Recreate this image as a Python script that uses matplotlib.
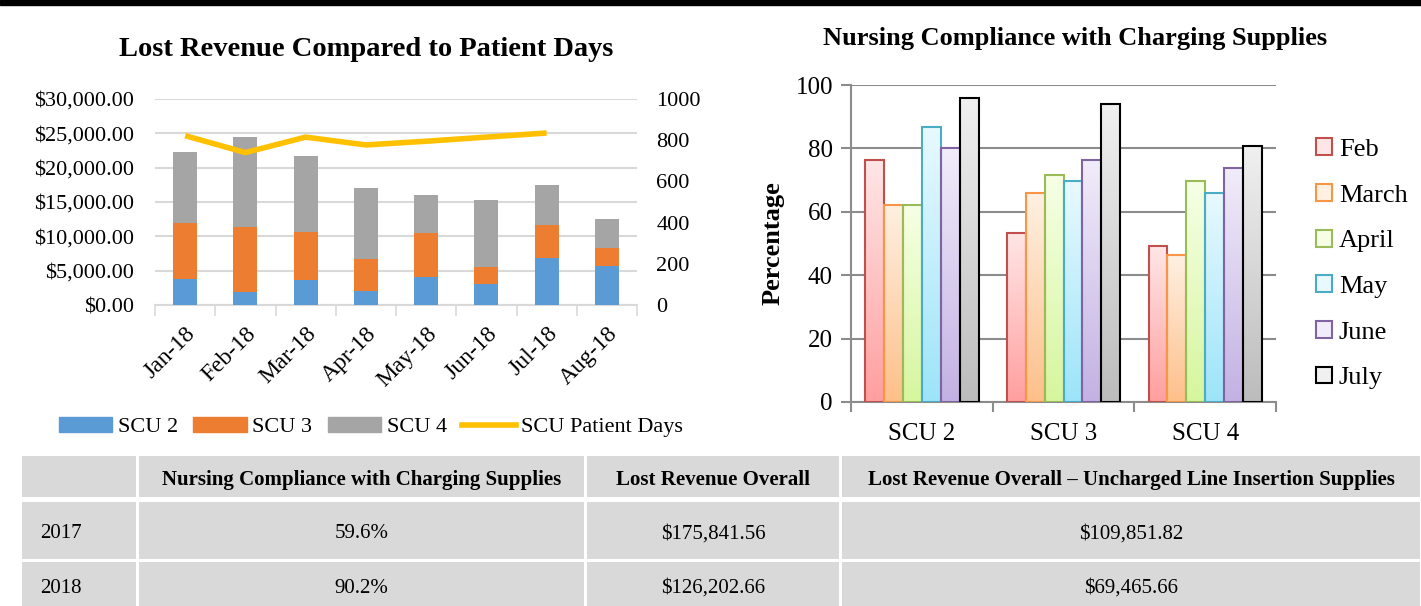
import matplotlib.pyplot as plt
import numpy as np
from matplotlib.colors import LinearSegmentedColormap
from matplotlib.patches import Rectangle, Patch
from matplotlib.lines import Line2D

plt.rcParams['font.family'] = ['Liberation Serif', 'DejaVu Serif']

# ---- left chart data ----
months = ['Jan-18', 'Feb-18', 'Mar-18', 'Apr-18', 'May-18', 'Jun-18', 'Jul-18', 'Aug-18']
scu2 = [3850, 1950, 3700, 2100, 4100, 3100, 6820, 5610]
scu3 = [8150, 9470, 6950, 4630, 6400, 2470, 4790, 2710]
scu4 = [10260, 13020, 11030, 10250, 5570, 9680, 5900, 4210]
patient_days = [822, 740, 815, 777, 795, 815, 835, np.nan]

# ---- right chart data ----
units = ['SCU 2', 'SCU 3', 'SCU 4']
comp_months = ['Feb', 'March', 'April', 'May', 'June', 'July']
compliance = {
    'Feb':   [76.2, 53.4, 49.1],
    'March': [62.3, 65.9, 46.3],
    'April': [62.3, 71.7, 69.7],
    'May':   [86.8, 69.6, 65.8],
    'June':  [80.0, 76.3, 73.8],
    'July':  [95.8, 94.0, 80.7],
}

# ---- table data ----
table_header = ['', 'Nursing Compliance with Charging Supplies', 'Lost Revenue Overall',
                'Lost Revenue Overall \u2013 Uncharged Line Insertion Supplies']
table_rows = [['2017', '59.6%', '$175,841.56', '$109,851.82'],
              ['2018', '90.2%', '$126,202.66', '$69,465.66']]

W, H = 1421, 606
fig = plt.figure(figsize=(W / 100, H / 100), dpi=100)

# background overlay (black bar + table) in pixel coords
bg = fig.add_axes([0, 0, 1, 1])
bg.set_xlim(0, W)
bg.set_ylim(H, 0)
bg.axis('off')
bg.add_patch(Rectangle((0, 0), W, 5, color='black'))

col_x = [22, 139, 587, 842, W + 2]
row_y = [456, 497, 502, 559, 562, H + 2]
cell_rows = [(row_y[0], row_y[1]), (row_y[2], row_y[3]), (row_y[4], row_y[5])]
for r, (y0, y1) in enumerate(cell_rows):
    texts = table_header if r == 0 else table_rows[r - 1]
    for c in range(4):
        x0, x1 = col_x[c], col_x[c + 1] - 3
        bg.add_patch(Rectangle((x0, y0), x1 - x0, y1 - y0, color='#d9d9d9', lw=0))
        yc = (y0 + y1) / 2 + 1 if r < 2 else (y0 + H) / 2 + 2
        if r == 0:
            bg.text((x0 + x1) / 2, yc, texts[c], ha='center', va='center_baseline',
                    fontsize=15, fontweight='bold')
        elif c == 0:
            bg.text(x0 + 18, yc, texts[c], ha='left', va='center_baseline', fontsize=15)
        else:
            bg.text((x0 + x1) / 2, yc, texts[c], ha='center', va='center_baseline',
                    fontsize=15)

# ---- left chart ----
ax = fig.add_axes([155 / W, 1 - 305 / H, (637 - 155) / W, (305 - 99) / H])
x = np.arange(len(months))
bw = 0.4
b2 = np.array(scu2)
b3 = np.array(scu3)
b4 = np.array(scu4)
ax.bar(x, b2, bw, color='#5b9bd5', label='SCU 2', zorder=3)
ax.bar(x, b3, bw, bottom=b2, color='#ed7d31', label='SCU 3', zorder=3)
ax.bar(x, b4, bw, bottom=b2 + b3, color='#a5a5a5', label='SCU 4', zorder=3)
ax.set_xlim(-0.5, len(months) - 0.5)
ax.set_ylim(0, 30000)
ax.set_yticks(np.arange(0, 30001, 5000))
ax.set_yticklabels(['${:,.2f}'.format(v) for v in np.arange(0, 30001, 5000)], fontsize=16)
ax.yaxis.grid(True, color='#d9d9d9', lw=1.5)
ax.tick_params(axis='y', length=0, pad=15)
ax.set_xticks(x)
ax.set_xticklabels(months, rotation=45, ha='right', rotation_mode='anchor', fontsize=17)
ax.tick_params(axis='x', length=0, pad=13)
ax.set_xticks(np.arange(-0.5, len(months)), minor=True)
ax.tick_params(axis='x', which='minor', length=8, color='#d9d9d9', width=1.2)
for s in ['top', 'right', 'left']:
    ax.spines[s].set_visible(False)
ax.spines['bottom'].set_color('#d9d9d9')
ax.spines['bottom'].set_linewidth(1.5)

ax2 = ax.twinx()
ax2.plot(x, patient_days, color='#ffc000', lw=4, label='SCU Patient Days', zorder=4,
         solid_capstyle='butt')
ax2.set_ylim(0, 1000)
ax2.set_yticks(np.arange(0, 1001, 200))
ax2.tick_params(axis='y', length=0, pad=14, labelsize=16)
for s in ax2.spines.values():
    s.set_visible(False)

fig.text(366 / W, 1 - 50 / H, 'Lost Revenue Compared to Patient Days', fontsize=20.5,
         fontweight='bold', ha='center', va='center')

handles = [Patch(color='#5b9bd5'), Patch(color='#ed7d31'), Patch(color='#a5a5a5'),
           Line2D([], [], color='#ffc000', lw=4)]
fig.legend(handles, ['SCU 2', 'SCU 3', 'SCU 4', 'SCU Patient Days'], loc='center',
           bbox_to_anchor=(371 / W, 1 - 427 / H), ncol=4, frameon=False, fontsize=16,
           handlelength=2.4, handleheight=0.7, handletextpad=0.25, columnspacing=0.7)

# ---- right chart ----
rx = fig.add_axes([851 / W, 1 - 402 / H, (1276 - 851) / W, (402 - 85) / H])
edges = ['#c0504d', '#f79646', '#9bbb59', '#4bacc6', '#8064a2', '#000000']
tops = ['#ffe6e6', '#fff0e2', '#f6ffe6', '#e8f9ff', '#f1ecfa', '#f0f0f0']
bottoms = ['#ff9f9f', '#fdc08a', '#d6f69e', '#9de4f9', '#c3b1e3', '#bcbcbc']
ux = np.arange(len(units))
n = len(comp_months)
w = 0.8 / n
grad = np.linspace(0, 1, 128).reshape(-1, 1)
for i, m in enumerate(comp_months):
    pos = ux - 0.4 + w * (i + 0.5)
    bars = rx.bar(pos, compliance[m], w, facecolor='none', edgecolor=edges[i],
                  lw=1.5, zorder=4, label=m)
    cmap = LinearSegmentedColormap.from_list('g%d' % i, [bottoms[i], tops[i]])
    for b in bars:
        rx.imshow(grad, extent=[b.get_x(), b.get_x() + b.get_width(), 0, b.get_height()],
                  origin='lower', cmap=cmap, aspect='auto', zorder=3)
rx.set_xlim(-0.5, len(units) - 0.5)
rx.set_ylim(0, 100)
rx.set_yticks(np.arange(0, 101, 20))
rx.yaxis.grid(True, color='#8c8c8c', lw=1.5)
rx.set_axisbelow(True)
rx.tick_params(axis='y', length=7, color='#8c8c8c', width=1.5, labelsize=18, pad=6)
rx.set_xticks(ux)
rx.set_xticklabels(units, fontsize=18)
rx.tick_params(axis='x', length=0, pad=15)
rx.set_xticks(np.arange(-0.5, len(units)), minor=True)
rx.tick_params(axis='x', which='minor', length=7, color='#8c8c8c', width=1.5)
for s in ['top', 'right']:
    rx.spines[s].set_visible(False)
for s in ['left', 'bottom']:
    rx.spines[s].set_color('#8c8c8c')
    rx.spines[s].set_linewidth(1.5)
rx.set_ylabel('Percentage', fontsize=19, fontweight='bold', labelpad=8)
fig.text(1075 / W, 1 - 38 / H, 'Nursing Compliance with Charging Supplies', fontsize=19,
         fontweight='bold', ha='center', va='center')

leg_handles = [Patch(facecolor=tops[i], edgecolor=edges[i], lw=1.5) for i in range(n)]
fig.legend(leg_handles, comp_months, loc='upper left', bbox_to_anchor=(1298 / W, 1 - 120 / H),
           frameon=False, fontsize=19, handlelength=0.6, handleheight=0.6,
           handletextpad=0.25, labelspacing=0.87, borderpad=0.2)

fig.savefig('out.png', dpi=100)
